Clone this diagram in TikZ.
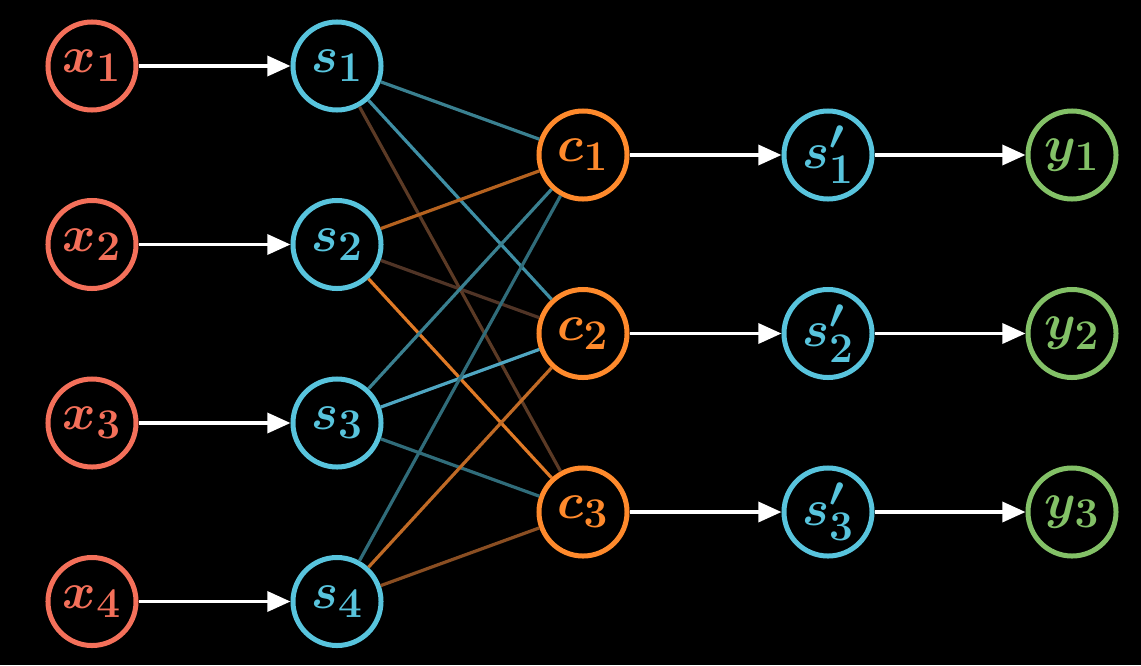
\documentclass[tikz,border=0pt]{standalone}
\usetikzlibrary{arrows.meta}
\definecolor{cx}{HTML}{F4705A}
\definecolor{cs}{HTML}{58C4DD}
\definecolor{cc}{HTML}{FF8A2C}
\definecolor{cy}{HTML}{83C167}
\definecolor{tealA}{HTML}{3A8090}
\definecolor{tealB}{HTML}{3F8FA5}
\definecolor{tealC}{HTML}{306C7A}
\definecolor{blueB}{HTML}{4FA6C2}
\definecolor{orA}{HTML}{B5621F}
\definecolor{orB}{HTML}{E07A26}
\definecolor{orC}{HTML}{C06A25}
\definecolor{brA}{HTML}{5B3A25}
\definecolor{brB}{HTML}{503426}
\definecolor{brC}{HTML}{8A4E22}
\newcommand{\lbl}[1]{\scalebox{1.45}{\boldmath$#1$}}
\tikzset{
  nd/.style={circle, draw=#1, text=#1, line width=0.125cm, fill=black,
    minimum size=2.2cm, inner sep=0pt, font=\Huge},
  ar/.style={draw=white, line width=0.09cm, -{Triangle[length=0.58cm,width=0.5cm]}},
  ed/.style={draw=#1, line width=0.08cm}
}
\begin{document}
\begin{tikzpicture}[x=0.025cm,y=-0.025cm]
\fill[black] (0,0) rectangle (1141,665);
\useasboundingbox (0,0) rectangle (1141,665);
% nodes
\node[nd=cx] (x1) at (92,66) {\lbl{x_1}};
\node[nd=cx] (x2) at (92,244.5) {\lbl{x_2}};
\node[nd=cx] (x3) at (92,423) {\lbl{x_3}};
\node[nd=cx] (x4) at (92,601.5) {\lbl{x_4}};
\node[nd=cs] (s1) at (337,66) {\lbl{s_1}};
\node[nd=cs] (s2) at (337,244.5) {\lbl{s_2}};
\node[nd=cs] (s3) at (337,423) {\lbl{s_3}};
\node[nd=cs] (s4) at (337,601.5) {\lbl{s_4}};
\node[nd=cc] (c1) at (583,155) {\lbl{c_1}};
\node[nd=cc] (c2) at (583,333.5) {\lbl{c_2}};
\node[nd=cc] (c3) at (583,512) {\lbl{c_3}};
\node[nd=cs] (t1) at (828,155) {\lbl{s'_1}};
\node[nd=cs] (t2) at (828,333.5) {\lbl{s'_2}};
\node[nd=cs] (t3) at (828,512) {\lbl{s'_3}};
\node[nd=cy] (y1) at (1072,155) {\lbl{y_1}};
\node[nd=cy] (y2) at (1072,333.5) {\lbl{y_2}};
\node[nd=cy] (y3) at (1072,512) {\lbl{y_3}};
% arrows
\draw[ar] (x1) -- (s1);
\draw[ar] (x2) -- (s2);
\draw[ar] (x3) -- (s3);
\draw[ar] (x4) -- (s4);
\draw[ar] (c1) -- (t1);
\draw[ar] (c2) -- (t2);
\draw[ar] (c3) -- (t3);
\draw[ar] (t1) -- (y1);
\draw[ar] (t2) -- (y2);
\draw[ar] (t3) -- (y3);
% mixing edges
\draw[ed=brA] (s1) -- (c3);
\draw[ed=brB] (s2) -- (c2);
\draw[ed=tealA] (s1) -- (c1);
\draw[ed=tealB] (s1) -- (c2);
\draw[ed=orA] (s2) -- (c1);
\draw[ed=orB] (s2) -- (c3);
\draw[ed=tealA] (s3) -- (c1);
\draw[ed=blueB] (s3) -- (c2);
\draw[ed=tealC] (s3) -- (c3);
\draw[ed=tealC] (s4) -- (c1);
\draw[ed=orC] (s4) -- (c2);
\draw[ed=brC] (s4) -- (c3);
\end{tikzpicture}
\end{document}
